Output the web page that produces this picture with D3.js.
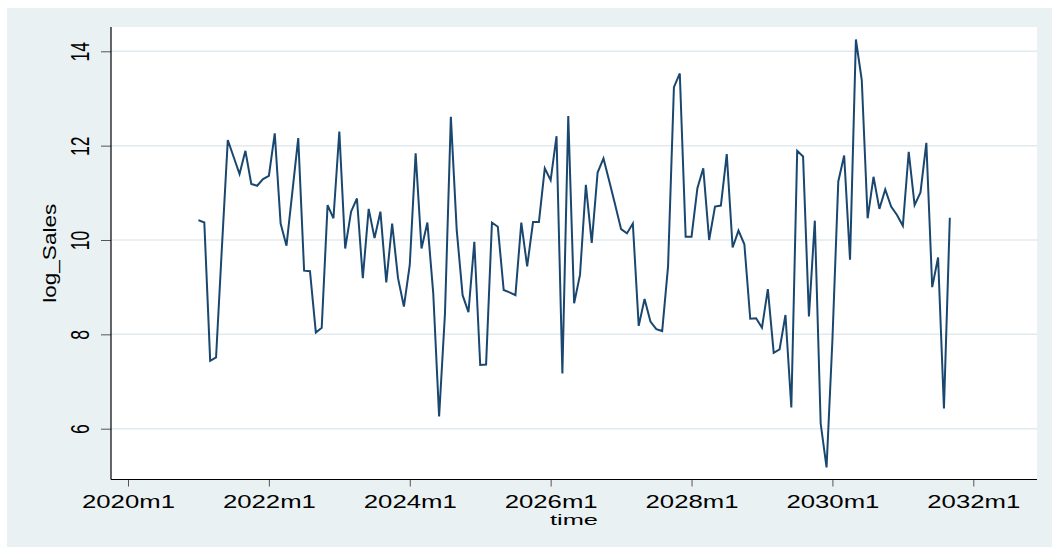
<!DOCTYPE html>
<html>
<head>
<meta charset="utf-8">
<script src="https://cdn.jsdelivr.net/npm/d3@7/dist/d3.min.js"></script>
<style>
  html, body { margin: 0; padding: 0; background: #ffffff; }
  svg { display: block; }
  text { font-family: "Liberation Sans", Arial, Helvetica, sans-serif; fill: #000; }
</style>
</head>
<body>
<svg id="chart" width="1052" height="548"></svg>
<script>
// Monthly series of log sales, first observation in 2021m1
const startPeriod = "2021m1";
const logSales = [
  10.42, 10.37, 7.44, 7.51, 9.85, 12.12, 11.76, 11.40, 11.89, 11.19, 11.15, 11.29,
  11.36, 12.26, 10.35, 9.88, 11.02, 12.16, 9.35, 9.34, 8.04, 8.14, 10.74, 10.46,
  12.30, 9.82, 10.60, 10.88, 9.19, 10.66, 10.04, 10.60, 9.10, 10.35, 9.19, 8.59,
  9.47, 11.84, 9.82, 10.37, 8.87, 6.26, 8.45, 12.61, 10.21, 8.83, 8.47, 9.96,
  7.35, 7.36, 10.37, 10.28, 8.94, 8.89, 8.83, 10.37, 9.44, 10.38, 10.38, 11.52,
  11.27, 12.20, 7.17, 12.63, 8.66, 9.26, 11.17, 9.94, 11.43, 11.73, 11.24, 10.74,
  10.23, 10.14, 10.35, 8.18, 8.75, 8.27, 8.11, 8.07, 9.44, 13.24, 13.53, 10.07,
  10.07, 11.10, 11.52, 10.00, 10.71, 10.73, 11.82, 9.84, 10.20, 9.91, 8.33, 8.34,
  8.14, 8.96, 7.61, 7.68, 8.41, 6.45, 11.89, 11.77, 8.38, 10.41, 6.11, 5.18,
  7.88, 11.24, 11.79, 9.58, 14.25, 13.39, 10.46, 11.34, 10.66, 11.07, 10.71, 10.53,
  10.30, 11.87, 10.74, 11.01, 12.06, 9.00, 9.63, 6.43, 10.47
];
const xTickLabels = ["2020m1", "2022m1", "2024m1", "2026m1", "2028m1", "2030m1", "2032m1"];
const yTickValues = [6, 8, 10, 12, 14];
const xTitle = "time";
const yTitle = "log_Sales";

// Stata-style monthly period number (%tm): months since 1960m1
function tm(label) {
  const [y, m] = label.split("m").map(Number);
  return (y - 1960) * 12 + (m - 1);
}

const t0 = tm(startPeriod);
const series = logSales.map((v, i) => ({ t: t0 + i, v }));

const svg = d3.select("#chart");

// Graph region and plot region
svg.append("rect").attr("x", 7).attr("y", 8).attr("width", 1045).attr("height", 539)
  .attr("fill", "#eaf1f3");
const plot = { left: 111, right: 1037, top: 27, bottom: 479.5 };
svg.append("rect").attr("x", plot.left).attr("y", plot.top)
  .attr("width", plot.right - plot.left).attr("height", plot.bottom - plot.top)
  .attr("fill", "#ffffff");

const x = d3.scaleLinear()
  .domain([tm(xTickLabels[0]), tm(xTickLabels[xTickLabels.length - 1])])
  .range([128, 973.3]);
const y = d3.scaleLinear().domain([6, 14]).range([428.7, 51.3]);

// Horizontal grid lines
svg.append("g").selectAll("line").data(yTickValues).join("line")
  .attr("x1", plot.left).attr("x2", plot.right)
  .attr("y1", d => y(d)).attr("y2", d => y(d))
  .attr("stroke", "#e3eaee").attr("stroke-width", 1.5);

// Series line
const line = d3.line().x(d => x(d.t)).y(d => y(d.v));
svg.append("path").datum(series)
  .attr("d", line)
  .attr("fill", "none")
  .attr("stroke", "#1a476f")
  .attr("stroke-width", 2)
  .attr("stroke-linejoin", "miter");

// Y axis
const yAxis = d3.axisLeft(y).tickValues(yTickValues).tickSize(10).tickPadding(0)
  .tickFormat(d3.format("d"));
const gy = svg.append("g").attr("transform", `translate(${plot.left},0)`).call(yAxis);
gy.select(".domain").remove();
gy.selectAll(".tick line").attr("stroke", "#555").attr("stroke-width", 1);
gy.selectAll(".tick text")
  .attr("x", 0).attr("dy", null)
  .attr("transform", "translate(-21.7,0) rotate(-90)")
  .attr("text-anchor", "middle")
  .attr("y", 0)
  .style("font-size", "25px")
  .attr("textLength", d => 9.75 * String(d).length)
  .attr("lengthAdjust", "spacingAndGlyphs");
svg.append("line").attr("x1", plot.left).attr("x2", plot.left)
  .attr("y1", plot.top).attr("y2", plot.bottom)
  .attr("stroke", "#000").attr("stroke-width", 1.2);

// X axis
const xAxis = d3.axisBottom(x).tickValues(xTickLabels.map(tm)).tickSize(7).tickPadding(0)
  .tickFormat((d, i) => xTickLabels[i]);
const gx = svg.append("g").attr("transform", `translate(0,${plot.bottom})`).call(xAxis);
gx.select(".domain").remove();
gx.selectAll(".tick line").attr("stroke", "#555").attr("stroke-width", 1);
gx.selectAll(".tick text")
  .attr("y", 28.5).attr("dy", null)
  .style("font-size", "18.5px")
  .attr("textLength", 93)
  .attr("lengthAdjust", "spacingAndGlyphs");
svg.append("line").attr("x1", plot.left).attr("x2", plot.right)
  .attr("y1", plot.bottom).attr("y2", plot.bottom)
  .attr("stroke", "#000").attr("stroke-width", 1.2);

// Axis titles
svg.append("text")
  .attr("transform", `translate(574,525)`)
  .attr("text-anchor", "middle")
  .style("font-size", "15.5px")
  .attr("textLength", 48)
  .attr("lengthAdjust", "spacingAndGlyphs")
  .text(xTitle);

svg.append("text")
  .attr("transform", `translate(55.5,${(plot.top + plot.bottom) / 2}) rotate(-90)`)
  .attr("text-anchor", "middle")
  .style("font-size", "19px")
  .attr("textLength", 99)
  .attr("lengthAdjust", "spacingAndGlyphs")
  .text(yTitle);
</script>
</body>
</html>
